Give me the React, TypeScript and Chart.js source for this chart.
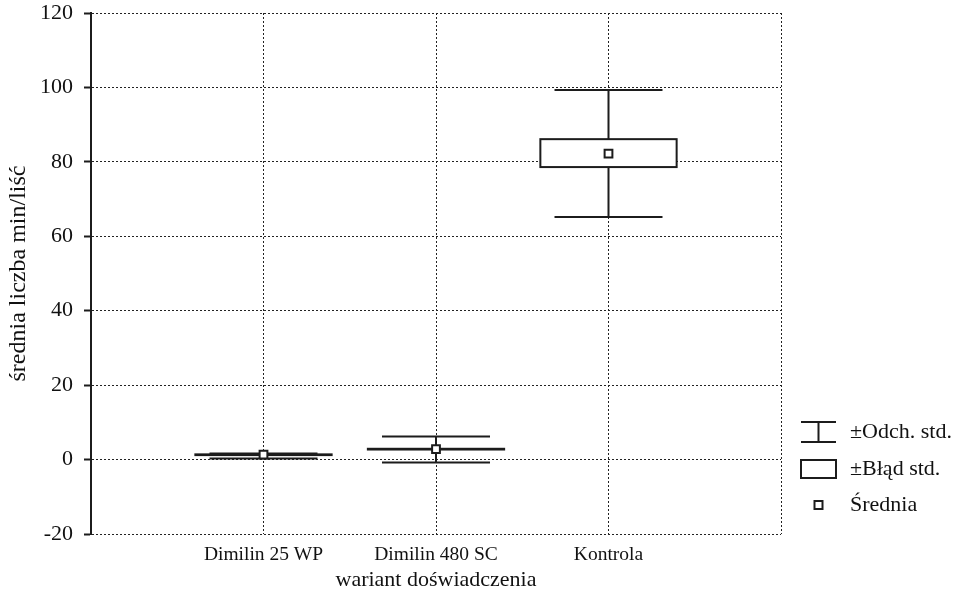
import React, { useEffect, useRef } from 'react';
import { Chart, registerables } from 'chart.js';

Chart.register(...registerables);

const categories = ['Dimilin 25 WP', 'Dimilin 480 SC', 'Kontrola'];
const means = [1.3, 2.8, 82.2];
const seLow = [1.2, 2.7, 78.6];
const seHigh = [1.4, 2.9, 86.1];
const sdLow = [0.3, -0.8, 65.2];
const sdHigh = [1.6, 6.2, 99.3];
const yMin = -20;
const yMax = 120;
const yStep = 20;
const legendLabels = ['±Odch. std.', '±Błąd std.', 'Średnia'];
const xTitle = 'wariant doświadczenia';
const yTitle = 'średnia liczba min/liść';

const FONT = '"Liberation Serif", "Times New Roman", serif';
const INK = '#1c1c1c';
const BOX_HALF = 0.395;
const CAP_HALF = 0.313;

const boxPlugin = {
  id: 'boxWhisker',
  beforeDatasetsDraw(chart: any) {
    const { ctx, scales } = chart;
    const x = scales.x;
    const y = scales.y;
    ctx.save();
    ctx.strokeStyle = INK;
    ctx.lineWidth = 2;
    ctx.setLineDash([]);
    categories.forEach((_, i) => {
      const v = i + 1;
      const cx = x.getPixelForValue(v);
      const bl = x.getPixelForValue(v - BOX_HALF);
      const br = x.getPixelForValue(v + BOX_HALF);
      const cl = x.getPixelForValue(v - CAP_HALF);
      const cr = x.getPixelForValue(v + CAP_HALF);
      const yTop = y.getPixelForValue(sdHigh[i]);
      const yBot = y.getPixelForValue(sdLow[i]);
      const bTop = y.getPixelForValue(seHigh[i]);
      const bBot = y.getPixelForValue(seLow[i]);
      ctx.beginPath();
      ctx.moveTo(cx, yTop);
      ctx.lineTo(cx, bTop);
      ctx.moveTo(cx, bBot);
      ctx.lineTo(cx, yBot);
      ctx.moveTo(cl, yTop);
      ctx.lineTo(cr, yTop);
      ctx.moveTo(cl, yBot);
      ctx.lineTo(cr, yBot);
      ctx.stroke();
      ctx.fillStyle = '#ffffff';
      ctx.fillRect(bl, bTop, br - bl, bBot - bTop);
      ctx.strokeRect(bl, bTop, br - bl, bBot - bTop);
    });
    ctx.restore();
  },
  afterDraw(chart: any) {
    const { ctx, chartArea } = chart;
    const x0 = chartArea.right + 20;
    const x1 = x0 + 35;
    const xm = (x0 + x1) / 2;
    const tx = x1 + 14;
    const rows = [432, 469, 505];
    ctx.save();
    ctx.strokeStyle = INK;
    ctx.lineWidth = 2;
    ctx.setLineDash([]);
    ctx.beginPath();
    ctx.moveTo(x0, rows[0] - 10);
    ctx.lineTo(x1, rows[0] - 10);
    ctx.moveTo(x0, rows[0] + 10);
    ctx.lineTo(x1, rows[0] + 10);
    ctx.moveTo(xm, rows[0] - 10);
    ctx.lineTo(xm, rows[0] + 10);
    ctx.stroke();
    ctx.strokeRect(x0, rows[1] - 9, x1 - x0, 18);
    ctx.fillStyle = '#fff';
    ctx.fillRect(xm - 4, rows[2] - 4, 8, 8);
    ctx.strokeRect(xm - 4, rows[2] - 4, 8, 8);
    ctx.fillStyle = '#111';
    ctx.font = '22px ' + FONT;
    ctx.textAlign = 'left';
    ctx.textBaseline = 'middle';
    legendLabels.forEach((t, i) => ctx.fillText(t, tx, rows[i]));
    ctx.restore();
  },
};

export default function App() {
  const ref = useRef<HTMLCanvasElement | null>(null);
  useEffect(() => {
    if (!ref.current) return;
    const chart = new Chart(ref.current, {
      type: 'scatter',
      data: {
        datasets: [
          {
            label: 'Średnia',
            data: means.map((m, i) => ({ x: i + 1, y: m })),
            pointStyle: 'rect',
            pointRadius: 5.5,
            pointBackgroundColor: '#ffffff',
            pointBorderColor: INK,
            pointBorderWidth: 2,
            showLine: false,
          },
        ],
      },
      options: {
        animation: false,
        responsive: false,
        maintainAspectRatio: false,
        layout: { padding: { top: 13, right: 182, bottom: 0, left: 0 } },
        plugins: {
          legend: { display: false },
          tooltip: { enabled: false },
        },
        scales: {
          x: {
            type: 'linear',
            min: 0,
            max: categories.length + 1,
            afterFit: (s: any) => {
              s.height = 63;
              s.paddingLeft = 0;
              s.paddingRight = 0;
            },
            ticks: {
              stepSize: 1,
              autoSkip: false,
              maxRotation: 0,
              padding: 9,
              color: '#111',
              font: { family: FONT, size: 19.5 },
              callback: (v: any) => categories[Number(v) - 1] ?? '',
            },
            grid: {
              color: '#222',
              lineWidth: 1,
              drawTicks: false,
            },
            border: { display: false, dash: [2, 2] },
            title: {
              display: true,
              text: xTitle,
              color: '#111',
              font: { family: FONT, size: 22 },
              padding: { top: 0, bottom: 4 },
            },
          },
          y: {
            type: 'linear',
            min: yMin,
            max: yMax,
            afterFit: (s: any) => {
              s.width = 91;
              s.paddingTop = 0;
              s.paddingBottom = 0;
            },
            ticks: {
              stepSize: yStep,
              padding: 11,
              color: '#111',
              font: { family: FONT, size: 22 },
            },
            grid: {
              color: '#222',
              lineWidth: 1,
              tickLength: 7,
              tickColor: INK,
              tickWidth: 2,
              tickBorderDash: [],
            },
            border: { display: true, color: INK, width: 2, dash: [2, 2] },
            title: {
              display: true,
              text: yTitle,
              color: '#111',
              font: { family: FONT, size: 24 },
              padding: { top: 4, bottom: 0 },
            },
          },
        },
      },
      plugins: [boxPlugin],
    });
    return () => chart.destroy();
  }, []);
  return (
    <div style={{ position: 'fixed', left: 0, top: 0, width: 963, height: 597, background: '#fff' }}>
      <canvas ref={ref} width={963} height={597} style={{ width: 963, height: 597 }} />
    </div>
  );
}
